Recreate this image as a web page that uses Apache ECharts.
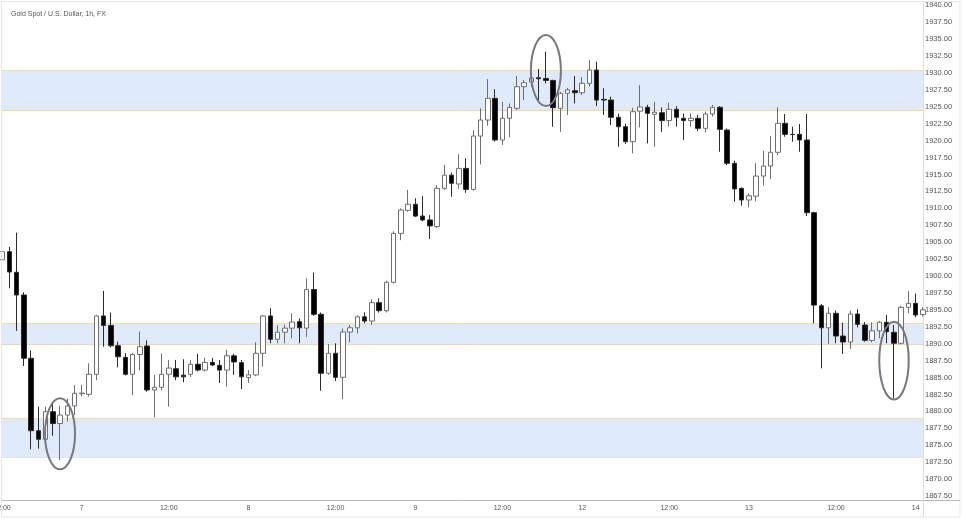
<!DOCTYPE html>
<html><head><meta charset="utf-8">
<script src="https://cdn.jsdelivr.net/npm/echarts@6/dist/echarts.min.js"></script>
<style>html,body{margin:0;padding:0;background:#fff}#c{width:962px;height:522px}</style>
</head><body><div id="c"></div>
<script>
const chartTitle = 'Gold Spot / U.S. Dollar, 1h, FX';

const opens = [1902.4,1903.6,1900.55,1897.2,1887.85,1877.14,1875.87,1879.95,1878.2,1879.45,
1880.8,1882.6,1882.52,1885.48,1894.1,1892.7,1889.7,1887.98,1885.48,1888.4,
1889.66,1883.16,1883.56,1885.48,1886.3,1885.35,1885.48,1886.96,1886.1,1887.24,
1886.8,1886.1,1888.2,1887.2,1885.0,1885.38,1888.58,1894.1,1890.65,1891.7,
1892.3,1893.25,1892.3,1898.0,1894.34,1885.63,1888.58,1885.03,1891.72,1892.35,
1893.97,1893.35,1896.06,1894.88,1899.07,1906.3,1909.7,1910.6,1908.86,1908.28,
1907.3,1912.95,1914.9,1913.6,1915.9,1912.8,1920.68,1923.05,1926.25,1920.1,
1923.3,1924.78,1927.97,1928.66,1929.3,1929.2,1928.9,1924.78,1927.0,1927.38,
1927.08,1928.47,1930.44,1926.1,1926.0,1923.45,1922.06,1919.85,1924.35,1924.93,
1923.9,1924.13,1922.96,1924.63,1923.3,1922.96,1923.3,1921.82,1923.94,1924.93,
1921.57,1916.65,1912.95,1911.23,1911.8,1914.77,1916.25,1918.28,1922.56,1920.93,
1920.93,1920.1,1909.35,1895.6,1892.35,1894.49,1891.13,1890.25,1894.38,1892.76,
1890.5,1891.9,1893.16,1891.68,1890.06,1895.37,1895.96,1894.3];
const highs = [1904.2,1904.3,1906.4,1897.6,1889.0,1880.7,1880.7,1881.1,1880.8,1881.9,
1883.9,1883.9,1887.1,1894.2,1897.8,1894.6,1890.3,1888.6,1888.65,1891.77,
1890.5,1885.4,1888.58,1887.6,1887.6,1887.7,1887.6,1888.5,1887.9,1887.9,
1887.6,1889.07,1888.5,1887.6,1886.1,1890.2,1894.25,1895.23,1892.7,1892.8,
1894.5,1893.7,1899.66,1900.5,1894.6,1889.95,1890.06,1892.27,1892.76,1894.2,
1894.64,1896.55,1896.7,1899.3,1906.6,1910.0,1912.7,1911.48,1911.8,1909.0,
1913.45,1916.4,1915.3,1918.0,1917.4,1921.57,1924.78,1929.1,1927.6,1925.75,
1925.5,1929.55,1928.96,1929.5,1930.6,1933.14,1929.0,1927.2,1927.8,1929.55,
1929.4,1931.9,1931.66,1927.73,1926.5,1924.0,1922.5,1924.87,1928.2,1925.3,
1925.75,1924.9,1925.6,1925.1,1924.0,1924.04,1923.8,1924.3,1925.27,1925.1,
1921.8,1917.04,1913.1,1912.2,1916.65,1918.5,1920.68,1924.93,1923.94,1922.06,
1922.46,1923.94,1909.5,1895.86,1895.37,1894.9,1893.1,1894.87,1895.08,1893.2,
1893.16,1893.35,1894.24,1892.76,1895.6,1897.78,1897.4,1895.4];
const lows = [1901.9,1898.2,1891.9,1886.7,1874.4,1874.5,1875.5,1876.4,1872.8,1878.5,
1879.45,1882.2,1882.2,1884.6,1889.55,1889.45,1886.5,1885.3,1882.4,1886.1,
1882.9,1879.1,1883.1,1880.7,1884.6,1884.3,1885.1,1885.9,1885.9,1886.7,
1884.2,1883.65,1885.4,1883.3,1884.2,1885.2,1886.6,1890.06,1890.06,1890.06,
1890.8,1890.06,1891.0,1894.1,1883.05,1885.4,1884.5,1881.8,1890.2,1891.5,
1893.0,1892.76,1894.6,1894.6,1898.9,1905.3,1909.5,1908.7,1908.1,1905.47,
1907.1,1912.7,1911.7,1912.9,1912.3,1912.6,1916.5,1922.2,1919.85,1919.36,
1920.5,1924.5,1926.0,1927.9,1926.0,1928.47,1922.06,1921.3,1923.8,1925.5,
1926.74,1928.0,1925.1,1923.8,1922.3,1919.1,1919.5,1918.13,1921.97,1919.6,
1919.1,1921.3,1922.06,1922.06,1920.1,1922.06,1921.4,1921.2,1923.55,1918.37,
1916.4,1910.98,1910.4,1910.15,1911.0,1913.34,1914.33,1917.88,1920.58,1919.85,
1918.37,1908.86,1893.0,1886.36,1889.95,1890.06,1888.48,1889.2,1892.4,1890.3,
1890.2,1890.8,1890.06,1881.93,1889.9,1894.5,1893.9,1894.0];
const closes = [1903.6,1900.6,1897.2,1887.85,1877.14,1875.87,1879.95,1878.2,1879.45,1880.8,
1882.67,1882.7,1885.48,1894.1,1892.7,1889.7,1888.07,1885.48,1888.4,1889.55,
1883.16,1883.56,1885.48,1886.4,1885.1,1885.1,1886.96,1886.1,1887.24,1886.85,
1886.1,1888.22,1887.3,1885.1,1885.4,1888.58,1894.1,1890.65,1891.7,1892.3,
1893.2,1892.35,1898.0,1894.34,1885.63,1888.58,1885.03,1891.72,1892.35,1893.97,
1893.35,1896.06,1894.88,1899.07,1906.3,1909.75,1910.6,1908.86,1908.28,1907.4,
1912.95,1914.9,1913.7,1915.9,1912.8,1920.68,1923.05,1926.25,1920.1,1923.3,
1924.93,1927.97,1928.56,1929.25,1929.15,1928.9,1924.87,1927.0,1927.5,1927.08,
1928.47,1930.44,1926.0,1926.0,1923.45,1922.06,1919.85,1924.28,1924.98,1924.04,
1924.2,1922.96,1924.63,1923.45,1922.96,1923.3,1921.82,1923.94,1924.93,1921.67,
1916.65,1912.86,1911.23,1911.86,1914.77,1916.25,1918.28,1922.56,1920.93,1920.9,
1920.1,1909.35,1895.7,1892.35,1894.49,1891.13,1890.25,1894.38,1892.86,1890.5,
1891.9,1893.16,1891.77,1890.06,1895.37,1895.96,1894.24,1895.0];

const tickIndex = [0, 11, 23, 34, 46, 57, 69, 80, 92, 103, 115, 126];
const tickText = ['12:00', '7', '12:00', '8', '12:00', '9', '12:00', '12', '12:00', '13', '12:00', '14'];
const priceTicks = [1867.5,1870,1872.5,1875,1877.5,1880,1882.5,1885,1887.5,1890,1892.5,1895,
1897.5,1900,1902.5,1905,1907.5,1910,1912.5,1915,1917.5,1920,1922.5,1925,1927.5,1930,1932.5,1935,1937.5,1940];

const zoneLow = [1924.57, 1889.9, 1873.21];
const zoneHigh = [1930.39, 1893.0, 1878.97];

const circleIndex = [8, 75, 123];
const circlePrice = [1876.7, 1930.36, 1887.5];
const circleHalfBars = [2.07, 2.07, 2.03];
const circleHalfPrice = [5.25, 5.25, 5.73];

const categories = opens.map((_, i) => String(i));
const candleData = opens.map((o, i) => [o, closes[i], lows[i], highs[i]]);
const fontFamily = '"Liberation Sans", Arial, sans-serif';

const chart = echarts.init(document.getElementById('c'), null, {renderer: 'canvas'});
chart.setOption({
  animation: false,
  backgroundColor: '#ffffff',
  title: {
    text: chartTitle, left: 6, top: 6,
    textStyle: {fontSize: 7, color: '#555555', fontWeight: 'normal', fontFamily}
  },
  grid: {left: 2, right: 39, top: 3, bottom: 21.3, containLabel: false, outerBoundsMode: 'none'},
  xAxis: {
    type: 'category', data: categories, boundaryGap: false,
    axisLine: {show: true, lineStyle: {color: '#b8b8b8', width: 1}},
    axisTick: {show: false},
    splitLine: {show: false},
    axisLabel: {
      interval: (i) => tickIndex.includes(i),
      formatter: (v, i) => { const k = tickIndex.indexOf(i); return k >= 0 ? tickText[k] : ''; },
      fontSize: 7, color: '#555555', margin: 4, fontFamily
    }
  },
  yAxis: {
    type: 'value', position: 'right', min: 1866.8, max: 1940.34, scale: true,
    axisLine: {show: true, lineStyle: {color: '#dcdcdc', width: 1}},
    axisTick: {show: false},
    splitLine: {show: false},
    axisLabel: {
      customValues: priceTicks,
      formatter: (v) => Number(v).toFixed(2),
      fontSize: 7.5, color: '#555555', margin: 2, fontFamily
    }
  },
  graphic: [
    {type: 'rect', silent: true, z: 100, shape: {x: 1.5, y: 1.5, width: 958.5, height: 515.5},
      style: {fill: null, stroke: '#e4e6ee', lineWidth: 1}},
    {type: 'line', silent: true, z: 100, shape: {x1: 923, y1: 500.5, x2: 960, y2: 500.5},
      style: {stroke: '#b8b8b8', lineWidth: 1}},
    {type: 'line', silent: true, z: 100, shape: {x1: 923.5, y1: 500.5, x2: 923.5, y2: 517},
      style: {stroke: '#dcdcdc', lineWidth: 1}}
  ],
  series: [
    {
      type: 'custom', z: 1, silent: true,
      data: zoneLow.map((l, i) => [0, l, zoneHigh[i]]),
      encode: {x: 0, y: [1, 2]},
      renderItem: (params, api) => {
        const cs = params.coordSys;
        const yT = Math.round(api.coord([0, api.value(2)])[1]) + 0.5;
        const yB = Math.round(api.coord([0, api.value(1)])[1]) + 0.5;
        const bottomColor = params.dataIndex === 2 ? '#e3e3e3' : '#f6d6a0';
        return {type: 'group', children: [
          {type: 'rect', shape: {x: cs.x, y: yT, width: cs.width, height: yB - yT}, style: {fill: '#dfebfb'}},
          {type: 'line', shape: {x1: cs.x, y1: yT, x2: cs.x + cs.width, y2: yT}, style: {stroke: '#f8dcab', lineWidth: 1}},
          {type: 'line', shape: {x1: cs.x, y1: yB, x2: cs.x + cs.width, y2: yB}, style: {stroke: bottomColor, lineWidth: 1}}
        ]};
      }
    },
    {
      type: 'candlestick', z: 3, data: candleData, barWidth: 5, clip: true,
      itemStyle: {color: '#ffffff', color0: '#000000', borderColor: '#6f6f6f', borderColor0: '#2b2b2b', borderWidth: 1}
    },
    {
      type: 'custom', z: 5, silent: true,
      data: circleIndex.map((x, i) => [x, circlePrice[i], circleHalfBars[i], circleHalfPrice[i]]),
      encode: {x: 0, y: 1},
      renderItem: (params, api) => {
        const c = api.coord([api.value(0), api.value(1)]);
        const top = api.coord([api.value(0), api.value(1) + api.value(3)]);
        const bw = api.size([1, 0])[0];
        return {type: 'ellipse', shape: {cx: c[0], cy: c[1], rx: bw * api.value(2), ry: c[1] - top[1]},
          style: {fill: null, stroke: '#777782', lineWidth: 2}};
      }
    }
  ]
});
</script></body></html>
